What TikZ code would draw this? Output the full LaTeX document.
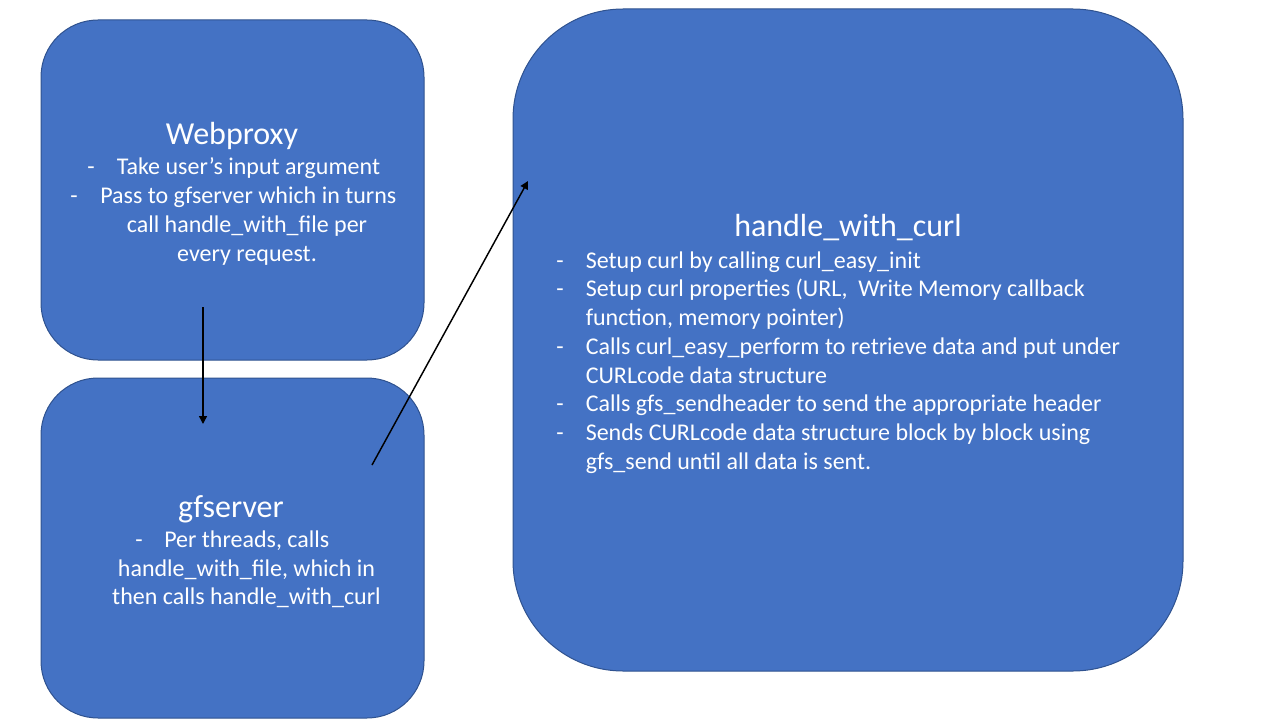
\documentclass[tikz,border=0pt]{standalone}
\usepackage{fontspec}
\setmainfont{Carlito}
\usetikzlibrary{arrows.meta}
\definecolor{boxfill}{HTML}{4472C4}
\definecolor{boxline}{HTML}{2F528F}
\tikzset{
  box/.style={draw=boxline, line width=0.75pt, fill=boxfill, rectangle, inner sep=0pt},
  txt/.style={text=white, inner sep=0pt, font=\fontsize{18}{21.6}\selectfont},
  ttl/.style={text=white, inner sep=0pt, anchor=base, font=\fontsize{24}{28.8}\selectfont},
  lt/.style={txt, anchor=base west},
  ct/.style={txt, anchor=base},
  conn/.style={line width=1.1pt, -{Triangle[length=6pt,width=6pt]}}
}
\begin{document}
\begin{tikzpicture}[x=0.75pt,y=-0.75pt]
\useasboundingbox (0,0) rectangle (1280,720);
% boxes
\node[box, minimum width=287.25pt, minimum height=255pt, rounded corners=42.75pt] (web) at (232.5,190) {};
\node[box, minimum width=287.25pt, minimum height=255pt, rounded corners=42.75pt] (gfs) at (232.5,548) {};
\node[box, minimum width=502.5pt, minimum height=496.5pt, rounded corners=82.5pt] (hwc) at (848,340) {};
\begin{scope}[yshift=-1.1pt]
% Webproxy text
\node[ttl] (webT) at (232,143) {Webproxy};
\node[lt] (webD1) at (87,173) {-};
\node[lt] (webL1) at (116.5,173) {Take user’s input argument};
\node[lt] (webD2) at (70,202) {-};
\node[lt] (webL2) at (100,202) {Pass to gfserver which in turns};
\node[ct] (webL3) at (247,231) {call handle\_with\_file per};
\node[ct] (webL4) at (247,260) {every request.};
% gfserver text
\node[ttl] (gfsT) at (231,516) {gfserver};
\node[lt] (gfsD1) at (135,546) {-};
\node[lt] (gfsL1) at (164,546) {Per threads, calls};
\node[ct] (gfsL2) at (246.5,575) {handle\_with\_file, which in};
\node[ct] (gfsL3) at (246.5,603) {then calls handle\_with\_curl};
% handle_with_curl text
\node[ttl] (hwcT) at (848,235) {handle\_with\_curl};
\node[lt] (hD1) at (556,267) {-};
\node[lt] (hL1) at (585.5,267) {Setup curl by calling curl\_easy\_init};
\node[lt] (hD2) at (556,295) {-};
\node[lt] (hL2) at (585.5,295) {Setup curl properties (URL,\ \ Write Memory callback};
\node[lt] (hL3) at (585.5,324) {function, memory pointer)};
\node[lt] (hD3) at (556,353) {-};
\node[lt] (hL4) at (585.5,353) {Calls curl\_easy\_perform to retrieve data and put under};
\node[lt] (hL5) at (585.5,382) {CURLcode data structure};
\node[lt] (hD4) at (556,410) {-};
\node[lt] (hL6) at (585.5,410) {Calls gfs\_sendheader to send the appropriate header};
\node[lt] (hD5) at (556,439) {-};
\node[lt] (hL7) at (585.5,439) {Sends CURLcode data structure block by block using};
\node[lt] (hL8) at (585.5,468) {gfs\_send until all data is sent.};
\end{scope}
% connectors
\coordinate (a1s) at (203,307);
\coordinate (a1e) at (203,424);
\coordinate (a2s) at (372,465);
\coordinate (a2e) at (528,181);
\draw[conn] (a1s) -- (a1e);
\draw[conn] (a2s) -- (a2e);
\end{tikzpicture}
\end{document}
